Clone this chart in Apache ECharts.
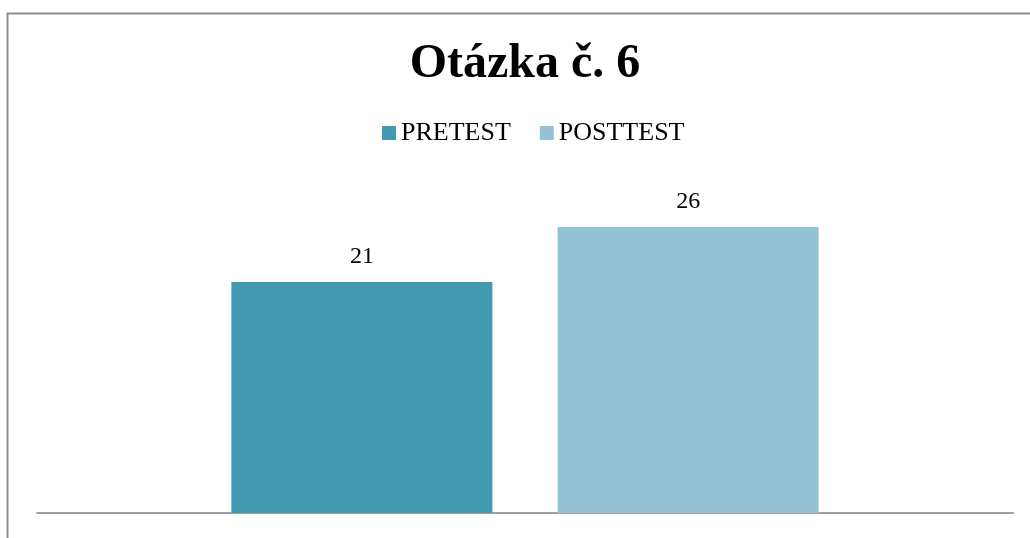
<!DOCTYPE html>
<html>
<head>
<meta charset="utf-8">
<script src="https://cdn.jsdelivr.net/npm/echarts@6/dist/echarts.min.js"></script>
<style>
html,body{margin:0;padding:0;background:#fff;}
#c{width:1030px;height:538px;}
</style>
</head>
<body>
<div id="c"></div>
<script>
const titleText = 'Otázka č. 6';
const categories = [''];
const seriesNames = ['PRETEST', 'POSTTEST'];
const pretestValues = [21];
const posttestValues = [26];

const serif = '"Liberation Serif", "Times New Roman", serif';
const chart = echarts.init(document.getElementById('c'), null, {renderer: 'canvas'});
chart.setOption({
  animation: false,
  backgroundColor: '#ffffff',
  title: {
    text: titleText,
    left: 520, textAlign: 'center',
    top: 36,
    textStyle: {fontFamily: serif, fontWeight: 'bold', fontSize: 48, color: '#000'}
  },
  legend: {
    data: seriesNames,
    left: 377,
    top: 115,
    icon: 'rect',
    itemWidth: 14, itemHeight: 14,
    itemGap: 29,
    textStyle: {fontFamily: serif, fontSize: 26, color: '#000'}
  },
  graphic: [{
    type: 'rect',
    shape: {x: 7.5, y: 13.5, width: 1040, height: 540},
    style: {fill: 'none', stroke: '#8e8e8e', lineWidth: 2},
    silent: true
  }],
  grid: {left: 37, right: 17, top: 183, bottom: 25},
  xAxis: {
    type: 'category',
    data: categories,
    axisLine: {show: true, lineStyle: {color: '#a0a0a0', width: 2}},
    axisTick: {show: false},
    axisLabel: {show: false}
  },
  yAxis: {
    type: 'value',
    min: 0, max: 30,
    show: false,
    splitLine: {show: false}
  },
  series: [
    {
      name: seriesNames[0], type: 'bar', data: pretestValues,
      barWidth: 261, barGap: '25%',
      itemStyle: {color: '#4299b0'},
      label: {show: true, position: 'top', distance: 13, fontFamily: serif, fontSize: 24, color: '#000'}
    },
    {
      name: seriesNames[1], type: 'bar', data: posttestValues,
      barWidth: 261, barGap: '25%',
      itemStyle: {color: '#93c3d4'},
      label: {show: true, position: 'top', distance: 13, fontFamily: serif, fontSize: 24, color: '#000'}
    }
  ]
});
</script>
</body>
</html>
